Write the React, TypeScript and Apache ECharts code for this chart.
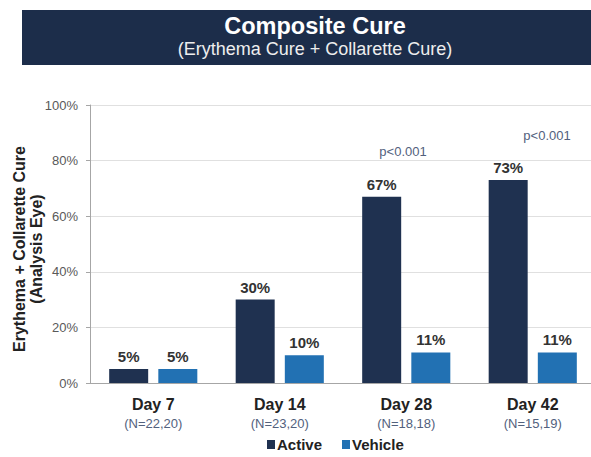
import React, { useEffect, useRef } from "react";
import * as echarts from "echarts";

const categories = ["Day 7", "Day 14", "Day 28", "Day 42"];
const nLabels = ["(N=22,20)", "(N=23,20)", "(N=18,18)", "(N=15,19)"];
const activeValues = [5, 30, 67, 73];
const vehicleValues = [5, 10, 11, 11];
const yTicks = [0, 20, 40, 60, 80, 100];
const pLabels = [
  { text: "p<0.001", x: 403, y: 151 },
  { text: "p<0.001", x: 547, y: 135 },
];

export default function App() {
  const ref = useRef<HTMLDivElement>(null);
  useEffect(() => {
    if (!ref.current) return;
    const chart = echarts.init(ref.current, undefined, { renderer: "svg" });
    const font = "Liberation Sans, Arial, sans-serif";
    const valueLabel = {
      show: true,
      position: "top",
      distance: 5,
      formatter: "{c}%",
      fontSize: 15,
      fontWeight: "bold",
      color: "#333",
    };
    chart.setOption({
      animation: false,
      textStyle: { fontFamily: font },
      graphic: [
        {
          type: "rect",
          shape: { x: 22, y: 10, width: 580, height: 55 },
          style: { fill: "#1c2d4a" },
          z: 0,
        },
        {
          type: "text",
          x: 315,
          y: 26,
          style: {
            text: "Composite Cure",
            fill: "#ffffff",
            font: `bold 23.5px ${font}`,
            textAlign: "center",
            textVerticalAlign: "middle",
          },
        },
        {
          type: "text",
          x: 315,
          y: 49,
          style: {
            text: "(Erythema Cure + Collarette Cure)",
            fill: "#eeeeee",
            font: `18px ${font}`,
            textAlign: "center",
            textVerticalAlign: "middle",
          },
        },
        ...pLabels.map((p) => ({
          type: "text",
          x: p.x,
          y: p.y,
          style: {
            text: p.text,
            fill: "#52617d",
            font: `13px ${font}`,
            textAlign: "center",
            textVerticalAlign: "middle",
          },
        })),
      ],
      legend: {
        bottom: 0,
        left: 262,
        itemWidth: 8,
        itemHeight: 9,
        itemGap: 20,
        icon: "rect",
        textStyle: { fontWeight: "bold", fontSize: 15, color: "#222", padding: [0, 0, 0, -3] },
        data: ["Active", "Vehicle"],
      },
      grid: {
        left: 90,
        top: 105,
        right: -5,
        height: 278,
        containLabel: false,
        outerBoundsMode: "none",
      },
      xAxis: {
        type: "category",
        data: categories,
        axisLine: { lineStyle: { color: "#a6a6a6", width: 1 } },
        axisTick: { show: false },
        axisLabel: {
          margin: 11,
          interval: 0,
          formatter: (v: string, i: number) => `{a|${v}}\n{b|${nLabels[i]}}`,
          rich: {
            a: { fontSize: 16, fontWeight: "bold", color: "#222", lineHeight: 20 },
            b: { fontSize: 13, color: "#52617d", lineHeight: 18 },
          },
        },
      },
      yAxis: {
        type: "value",
        min: 0,
        max: 100,
        interval: 20,
        name: "Erythema + Collarette Cure\n(Analysis Eye)",
        nameLocation: "middle",
        nameGap: 45,
        nameMoveOverlap: false,
        nameTextStyle: {
          fontSize: 16,
          fontWeight: "bold",
          color: "#222",
          lineHeight: 17,
          padding: [0, 10, 0, 0],
        },
        axisLine: { show: true, lineStyle: { color: "#a6a6a6" } },
        axisTick: { show: true, length: 4, lineStyle: { color: "#a6a6a6" } },
        axisLabel: {
          color: "#595959",
          fontSize: 13,
          margin: 12,
          formatter: (v: number) => (yTicks.includes(v) ? `${v}%` : ""),
        },
        splitLine: { lineStyle: { color: "#e0e0e0" } },
      },
      series: [
        {
          name: "Active",
          type: "bar",
          data: activeValues,
          barWidth: 39,
          barGap: "26%",
          itemStyle: { color: "#1f3150" },
          label: valueLabel,
        },
        {
          name: "Vehicle",
          type: "bar",
          data: vehicleValues,
          barWidth: 39,
          itemStyle: { color: "#2271b3" },
          label: valueLabel,
        },
      ],
    });
    return () => chart.dispose();
  }, []);
  return (
    <div
      ref={ref}
      style={{ position: "fixed", left: 0, top: 0, width: 591, height: 457, background: "#fff" }}
    />
  );
}
